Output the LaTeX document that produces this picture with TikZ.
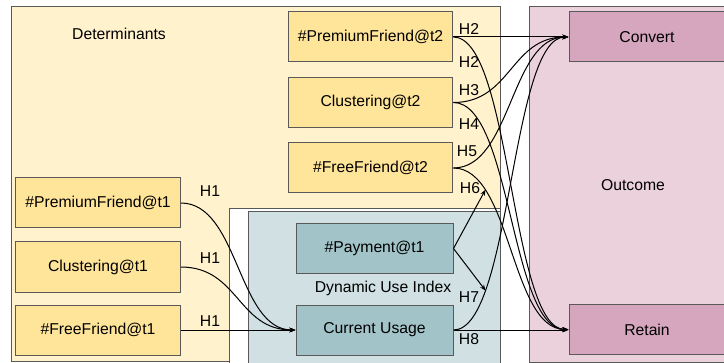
\documentclass[tikz,border=0pt]{standalone}
\usepackage{fontspec}
\setmainfont{Liberation Sans}
\usetikzlibrary{arrows.meta}

\definecolor{detback}{HTML}{FFF2CC}
\definecolor{detfill}{HTML}{FFE599}
\definecolor{useback}{HTML}{D0E0E3}
\definecolor{usefill}{HTML}{A2C4C9}
\definecolor{outback}{HTML}{EAD1DC}
\definecolor{outfill}{HTML}{D5A6BD}
\definecolor{edgegray}{HTML}{595959}

\tikzset{every picture/.style={line width=0.75pt}}
\tikzset{
  varbox/.style={draw=edgegray, inner sep=0pt, minimum height=37.5pt, font=\fontsize{11.8}{14}\selectfont},
  detbox/.style={varbox, fill=detfill, minimum width=123.5pt},
  usebox/.style={varbox, fill=usefill, minimum width=117.75pt},
  outbox/.style={varbox, fill=outfill, minimum width=117pt},
  grouplabel/.style={inner sep=0.75pt, font=\fontsize{11.8}{14}\selectfont},
  hlabel/.style={inner sep=0.75pt, font=\fontsize{11.8}{14}\selectfont},
  hcurve/.style={out=0, in=180, distance=43.5pt},
}

\begin{document}
\begin{tikzpicture}[x=0.75pt,y=0.75pt,yscale=-1,>={Stealth[length=4.5pt,width=3.5pt]}]
	\useasboundingbox (0,0) rectangle (724,363);
	\clip (0,0) rectangle (724,363);
	
	%Shape: Rectangle [Determinants]
	\draw [draw=edgegray, fill=detback] (11,7) rectangle (500,361);
	%Shape: Rectangle [white frame]
	\draw [draw=edgegray, fill=white] (229,209) rectangle (500,370);
	%Shape: Rectangle [Dynamic Use Index]
	\draw [draw=edgegray, fill=useback] (248,212) rectangle (500,370);
	%Shape: Rectangle [Outcome]
	\draw [draw=edgegray, fill=outback] (529,7) rectangle (740,362);
	
	% Group labels
	\node [grouplabel] (detlabel) at (119,34) {Determinants};
	\node [grouplabel] (uselabel) at (383,288) {Dynamic Use Index};
	\node [grouplabel] (outlabel) at (633,185) {Outcome};
	
	% Determinants at t1
	\node [detbox] (pf1) at (98,203) {\#PremiumFriend@t1};
	\node [detbox] (cl1) at (98,267) {Clustering@t1};
	\node [detbox] (ff1) at (98,330) {\#FreeFriend@t1};
	% Determinants at t2
	\node [detbox] (pf2) at (370.5,37) {\#PremiumFriend@t2};
	\node [detbox] (cl2) at (370.5,102.5) {Clustering@t2};
	\node [detbox] (ff2) at (370.5,168) {\#FreeFriend@t2};
	% Dynamic use index
	\node [usebox] (pay) at (374.5,248.5) {\#Payment@t1};
	\node [usebox] (cu) at (374.5,330) {Current Usage};
	% Outcome
	\node [outbox] (conv) at (647,37) {Convert};
	\node [outbox] (ret) at (647,329.5) {Retain};
	
	% H1
	\draw [->] (pf1.east) to[hcurve] (cu.west);
	\draw [->] (cl1.east) to[hcurve] (cu.west);
	\draw [->] (ff1.east) -- (ff1.east -| cu.west);
	% H2 -- H5
	\draw [->] (pf2.east) -- (pf2.east -| conv.west);
	\draw [->] (pf2.east) to[hcurve] (ret.west);
	\draw [->] (cl2.east) to[hcurve] (conv.west);
	\draw [->] (cl2.east) to[hcurve] (ret.west);
	\draw [->] (ff2.east) to[hcurve] (conv.west);
	\draw [->] (ff2.east) to[hcurve] coordinate[pos=0.23] (mod6) (ret.west);
	% H7, H8
	\draw [->] (cu.east) to[hcurve] coordinate[pos=0.23] (mod7) (conv.west);
	\draw [->] (cu.east) -- (cu.east -| ret.west);
	% Moderation by payment
	\draw [->] (pay.east) -- (mod6);
	\draw [->] (pay.east) -- (mod7);
	
	% Text Node
	\node [hlabel] (h1a) at (210,191) {H1};
	\node [hlabel] (h1b) at (210,258) {H1};
	\node [hlabel] (h1c) at (210,321) {H1};
	\node [hlabel] (h2a) at (469,29) {H2};
	\node [hlabel] (h2b) at (469,62) {H2};
	\node [hlabel] (h3) at (469,90) {H3};
	\node [hlabel] (h4) at (469,124) {H4};
	\node [hlabel] (h5) at (467,151) {H5};
	\node [hlabel] (h6) at (470,188) {H6};
	\node [hlabel] (h7) at (469,297) {H7};
	\node [hlabel] (h8) at (469,339) {H8};
	
\end{tikzpicture}
\end{document}
